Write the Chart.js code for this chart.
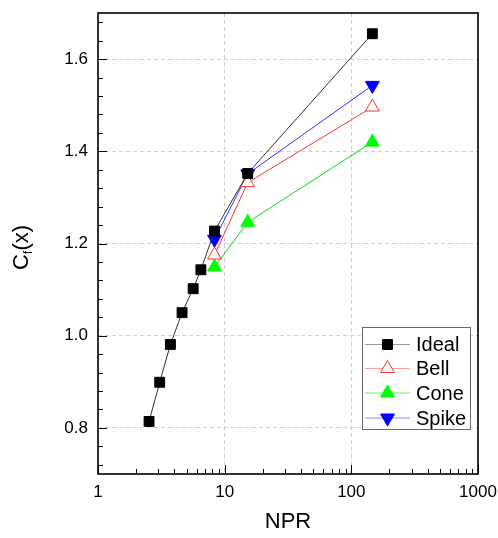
<!DOCTYPE html>
<html>
<head>
<meta charset="utf-8">
<script src="https://cdn.jsdelivr.net/npm/chart.js@4.4.1/dist/chart.umd.min.js"></script>
<style>
  html, body { margin: 0; padding: 0; background: #fff; }
  #wrap { width: 498px; height: 538px; }
</style>
</head>
<body>
<div id="wrap"><canvas id="cf"></canvas></div>
<script>
// Thrust coefficient vs nozzle pressure ratio
const idealNpr = [2.53, 3.07, 3.73, 4.61, 5.64, 6.49, 8.31, 15.2, 146.6];
const idealCf  = [0.814, 0.899, 0.981, 1.050, 1.102, 1.143, 1.227, 1.352, 1.655];

const nozzleNpr = [8.31, 15.2, 146.6];
const bellCf  = [1.175, 1.332, 1.496];
const coneCf  = [1.149, 1.246, 1.420];
const spikeCf = [1.209, 1.351, 1.543];

const seriesNames = ["Ideal", "Bell", "Cone", "Spike"];

const xTicks = [1, 10, 100, 1000];
const yTicks = [0.8, 1.0, 1.2, 1.4, 1.6];

const FONT = "'Liberation Sans', Arial, sans-serif";

const pts = (xs, ys) => xs.map((x, i) => ({ x, y: ys[i] }));

// legend line colours are lighter than the plotted lines
const legendLine = ["#9a9a9a", "#ff9c9c", "#55ff55", "#8a8aff"];

// box around the plot, inward tick marks, subscripted y title, legend
const decorPlugin = {
  id: "decor",
  afterDatasetsDraw(chart) {
    const { ctx, chartArea: a, scales } = chart;
    const xs = scales.x, ys = scales.y;
    ctx.save();
    ctx.strokeStyle = "#000";
    ctx.lineWidth = 1;

    // y ticks: major at labelled values, minor every 0.04
    ctx.beginPath();
    for (let k = 18; k <= 42; k++) {
      const v = k * 0.04;
      const py = Math.round(ys.getPixelForValue(v)) + 0.5;
      const major = yTicks.some(t => Math.abs(t - v) < 1e-6);
      ctx.moveTo(a.left, py);
      ctx.lineTo(a.left + (major ? 9 : 5), py);
    }
    // x ticks: decades major, 2..9 minor
    for (let d = 1; d <= 1000; d *= 10) {
      for (let m = 1; m <= 9; m++) {
        const v = d * m;
        if (v > 1000) break;
        const px = Math.round(xs.getPixelForValue(v)) + 0.5;
        ctx.moveTo(px, a.bottom);
        ctx.lineTo(px, a.bottom - (m === 1 ? 9 : 5));
      }
    }
    ctx.stroke();

    // plot frame
    ctx.lineWidth = 1.6;
    ctx.strokeRect(a.left, a.top, a.right - a.left, a.bottom - a.top);

    // y axis title C_f(x)
    ctx.save();
    ctx.translate(20, (a.top + a.bottom) / 2 + 4);
    ctx.rotate(-Math.PI / 2);
    ctx.fillStyle = "#000";
    ctx.textBaseline = "alphabetic";
    const big = "22px " + FONT, small = "13px " + FONT;
    ctx.font = big;
    const wC = ctx.measureText("C").width;
    const wX = ctx.measureText("(x)").width;
    ctx.font = small;
    const wF = ctx.measureText("f").width;
    let tx = -(wC + wF + wX) / 2;
    const by = 8;
    ctx.font = big;
    ctx.textAlign = "left";
    ctx.fillText("C", tx, by);
    tx += wC;
    ctx.font = small;
    ctx.fillText("f", tx, by + 4);
    tx += wF;
    ctx.font = big;
    ctx.fillText("(x)", tx, by);
    ctx.restore();

    // legend box
    const lx = 362, ly = 327, lw = 108, lh = 102;
    ctx.fillStyle = "#fff";
    ctx.fillRect(lx, ly, lw, lh);
    ctx.strokeStyle = "#6a6a6a";
    ctx.lineWidth = 1;
    ctx.strokeRect(lx + 0.5, ly + 0.5, lw, lh);
    const rowY = [344.5, 368.5, 393, 418];
    chart.data.datasets.forEach((ds, i) => {
      const y = rowY[i];
      ctx.strokeStyle = legendLine[i];
      ctx.lineWidth = 1.2;
      ctx.beginPath();
      ctx.moveTo(365, y);
      ctx.lineTo(410, y);
      ctx.stroke();
      ctx.save();
      ctx.fillStyle = ds.pointBackgroundColor;
      ctx.strokeStyle = ds.pointBorderColor;
      ctx.lineWidth = ds.pointBorderWidth;
      Chart.helpers.drawPoint(ctx, {
        pointStyle: ds.pointStyle,
        radius: ds.pointRadius,
        rotation: ds.pointRotation || 0,
        borderWidth: ds.pointBorderWidth
      }, 387.5, y);
      ctx.restore();
      ctx.fillStyle = "#000";
      ctx.font = "20px " + FONT;
      ctx.textAlign = "left";
      ctx.textBaseline = "middle";
      ctx.fillText(ds.label, 416, y + 1);
    });
    ctx.restore();
  }
};

new Chart(document.getElementById("cf"), {
  type: "line",
  data: {
    datasets: [
      {
        label: seriesNames[0],
        data: pts(idealNpr, idealCf),
        borderColor: "#333333",
        borderWidth: 1,
        pointStyle: "rect",
        pointRadius: 7,
        pointBackgroundColor: "#000000",
        pointBorderColor: "#000000",
        pointBorderWidth: 1
      },
      {
        label: seriesNames[1],
        data: pts(nozzleNpr, bellCf),
        borderColor: "#ff3030",
        borderWidth: 1,
        pointStyle: "triangle",
        pointRadius: 8,
        pointBackgroundColor: "#ffffff",
        pointBorderColor: "#ff3030",
        pointBorderWidth: 1
      },
      {
        label: seriesNames[2],
        data: pts(nozzleNpr, coneCf),
        borderColor: "#00e000",
        borderWidth: 1,
        pointStyle: "triangle",
        pointRadius: 8,
        pointBackgroundColor: "#00ff00",
        pointBorderColor: "#00ff00",
        pointBorderWidth: 1
      },
      {
        label: seriesNames[3],
        data: pts(nozzleNpr, spikeCf),
        borderColor: "#3030ff",
        borderWidth: 1,
        pointStyle: "triangle",
        pointRotation: 180,
        pointRadius: 8,
        pointBackgroundColor: "#0000ff",
        pointBorderColor: "#0000ff",
        pointBorderWidth: 1
      }
    ]
  },
  options: {
    responsive: true,
    maintainAspectRatio: false,
    animation: false,
    layout: { padding: { top: 13, right: 20, left: 0, bottom: 0 } },
    plugins: { legend: { display: false }, tooltip: { enabled: false } },
    scales: {
      x: {
        type: "logarithmic",
        min: 1,
        max: 1000,
        afterBuildTicks: s => { s.ticks = xTicks.map(v => ({ value: v })); },
        afterFit: s => { s.height = 64; s.paddingLeft = 0; s.paddingRight = 0; },
        ticks: {
          color: "#000",
          font: { family: FONT, size: 17 },
          padding: 8,
          maxRotation: 0,
          autoSkip: false,
          callback: v => String(v)
        },
        grid: { color: "#cfcfcf", lineWidth: 1, drawTicks: false },
        border: { display: false, dash: [4, 3] },
        title: {
          display: true,
          text: "NPR",
          color: "#000",
          font: { family: FONT, size: 22 },
          padding: { top: 0, bottom: 3 }
        }
      },
      y: {
        min: 0.7,
        max: 1.7,
        afterBuildTicks: s => { s.ticks = yTicks.map(v => ({ value: v })); },
        afterFit: s => { s.width = 98; s.paddingTop = 0; s.paddingBottom = 0; },
        ticks: {
          color: "#000",
          font: { family: FONT, size: 17 },
          padding: 10,
          callback: v => v.toFixed(1)
        },
        grid: { color: "#cfcfcf", lineWidth: 1, drawTicks: false },
        border: { display: false, dash: [4, 3] }
      }
    }
  },
  plugins: [decorPlugin]
});
</script>
</body>
</html>
